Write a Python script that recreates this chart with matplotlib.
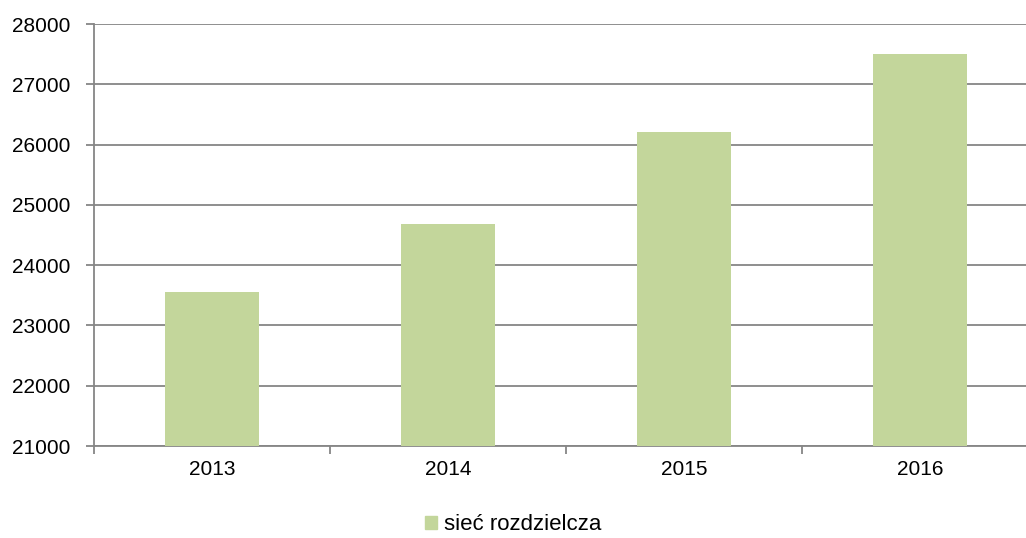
import numpy as np
import matplotlib
matplotlib.use('Agg')
import matplotlib.pyplot as plt
from matplotlib.patches import Patch

years = ['2013', '2014', '2015', '2016']
values = [23550, 24680, 26210, 27510]
label = 'sieć rozdzielcza'

plt.rcParams['font.family'] = ['Liberation Sans', 'DejaVu Sans']

fig = plt.figure(figsize=(10.26, 5.38), dpi=100)
ax = fig.add_axes([94/1026, (538-446)/538, 944/1026, 422/538])

x = np.arange(len(years))
ax.bar(x, values, width=0.4, color='#C3D69B', zorder=3)

ax.set_xlim(-0.5, len(years) - 0.5)
ax.set_ylim(21000, 28000)
ax.set_yticks(np.arange(21000, 28001, 1000))
ax.yaxis.grid(True, color='#868686', linewidth=1.3, zorder=0)

ax.set_xticks(x)
ax.set_xticklabels(years)
ax.set_xticks(np.arange(-0.5, len(years), 1), minor=True)
ax.tick_params(axis='x', which='major', length=0, pad=10, labelsize=15)
ax.tick_params(axis='x', which='minor', length=6, width=1.3, color='#868686')
ax.tick_params(axis='y', length=6, width=1.3, color='#868686', labelsize=15, pad=11)

for s in ['top', 'right']:
    ax.spines[s].set_visible(False)
for s in ['left', 'bottom']:
    ax.spines[s].set_color('#868686')
    ax.spines[s].set_linewidth(1.3)

fig.legend(handles=[Patch(color='#C3D69B', label=label)], loc='center',
           bbox_to_anchor=(513/1026, 1 - 525/538), frameon=False, fontsize=16,
           handlelength=0.55, handleheight=0.55, handletextpad=0.3,
           borderpad=0.1)

fig.savefig('out.png', dpi=100)
